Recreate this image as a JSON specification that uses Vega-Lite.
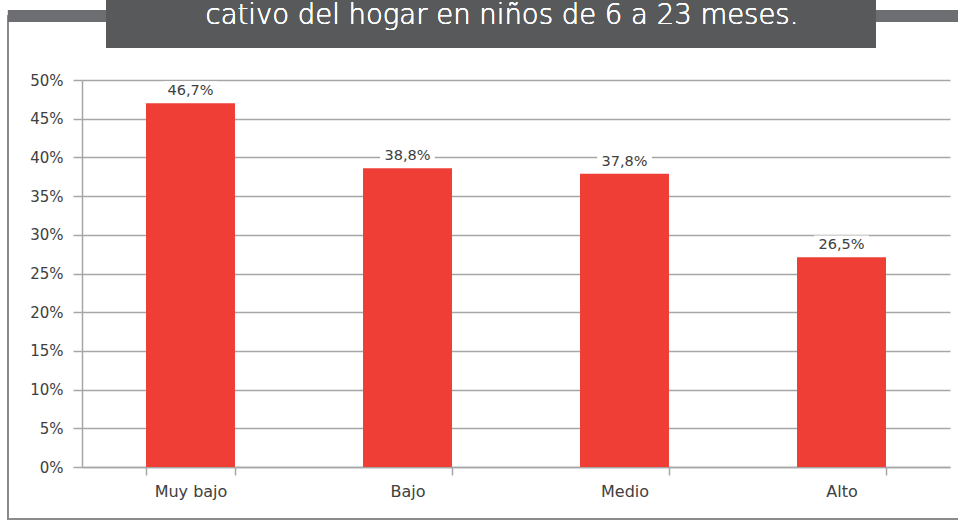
{
  "$schema": "https://vega.github.io/schema/vega-lite/v6.json",
  "width": 868,
  "height": 387,
  "autosize": {"type": "none"},
  "padding": {"left": 82, "top": 80, "right": 8, "bottom": 55},
  "background": "white",
  "config": {
    "view": {"stroke": null},
    "font": "DejaVu Sans"
  },
  "data": {
    "values": [
      {"nivel": "Muy bajo", "valor": 47.0, "etiqueta": "46,7%"},
      {"nivel": "Bajo", "valor": 38.6, "etiqueta": "38,8%"},
      {"nivel": "Medio", "valor": 37.9, "etiqueta": "37,8%"},
      {"nivel": "Alto", "valor": 27.1, "etiqueta": "26,5%"}
    ]
  },
  "layer": [
    {
      "layer": [
        {
          "mark": {"type": "rect", "filled": false, "stroke": "#8a8a8a", "strokeWidth": 1.5, "clip": false},
          "encoding": {
            "x": {"datum": -0.0853, "type": "quantitative", "scale": {"domain": [0, 1], "nice": false, "zero": false}, "axis": null},
            "x2": {"datum": 1.03},
            "y": {"datum": -0.1344, "type": "quantitative", "scale": {"domain": [0, 1], "nice": false, "zero": false}, "axis": null},
            "y2": {"datum": 1.165}
          }
        },
        {
          "mark": {"type": "rect", "fill": "#6d6e71", "clip": false},
          "encoding": {
            "x": {"datum": -0.0853, "type": "quantitative"},
            "x2": {"datum": 1.03},
            "y": {"datum": 1.1499, "type": "quantitative"},
            "y2": {"datum": 1.1809}
          }
        },
        {
          "mark": {"type": "rect", "fill": "#58595b", "clip": false},
          "encoding": {
            "x": {"datum": 0.02765, "type": "quantitative"},
            "x2": {"datum": 0.91475},
            "y": {"datum": 1.0827, "type": "quantitative"},
            "y2": {"datum": 1.23}
          }
        },
        {
          "mark": {"type": "text", "text": "cativo del hogar en niños de 6 a 23 meses.", "color": "white", "fontSize": 27.5, "fontWeight": 200, "align": "center", "baseline": "alphabetic", "font": "DejaVu Sans", "clip": false},
          "encoding": {
            "x": {"datum": 0.4839, "type": "quantitative"},
            "y": {"datum": 1.1447, "type": "quantitative"}
          }
        }
      ]
    },
    {
      "encoding": {
        "x": {
          "field": "nivel",
          "type": "nominal",
          "sort": null,
          "scale": {"paddingInner": 0.59, "paddingOuter": 0.295},
          "axis": {
            "orient": "bottom",
            "title": null,
            "labelAngle": 0,
            "tickBand": "extent",
            "domainColor": "#a6a6a6",
            "domainWidth": 1.5,
            "tickColor": "#a6a6a6",
            "tickWidth": 1.5,
            "tickSize": 8,
            "labelFontSize": 16,
            "labelColor": "#404040",
            "labelPadding": 8,
            "labelFont": "DejaVu Sans"
          }
        },
        "y": {
          "field": "valor",
          "type": "quantitative",
          "scale": {"domain": [0, 50], "nice": false},
          "axis": {
            "orient": "left",
            "title": null,
            "values": [0, 5, 10, 15, 20, 25, 30, 35, 40, 45, 50],
            "labelExpr": "datum.value + '%'",
            "grid": true,
            "gridColor": "#a6a6a6",
            "gridWidth": 1.5,
            "domainColor": "#a6a6a6",
            "domainWidth": 1.5,
            "tickColor": "#a6a6a6",
            "tickWidth": 1.5,
            "tickSize": 9,
            "labelFontSize": 15,
            "labelColor": "#404040",
            "labelPadding": 10,
            "labelFont": "DejaVu Sans"
          }
        }
      },
      "layer": [
        {"mark": {"type": "bar", "color": "#ef3e36"}},
        {
          "mark": {
            "type": "point",
            "shape": "M-1,-0.36L1,-0.36L1,0.36L-1,0.36Z",
            "size": 3000,
            "filled": true,
            "fill": "white",
            "opacity": 1,
            "strokeWidth": 0,
            "yOffset": -12
          }
        },
        {
          "mark": {"type": "text", "fontSize": 14.5, "color": "#404040", "baseline": "middle", "yOffset": -12, "font": "DejaVu Sans"},
          "encoding": {"text": {"field": "etiqueta"}}
        }
      ]
    }
  ],
  "resolve": {"scale": {"x": "independent", "y": "independent"}}
}
